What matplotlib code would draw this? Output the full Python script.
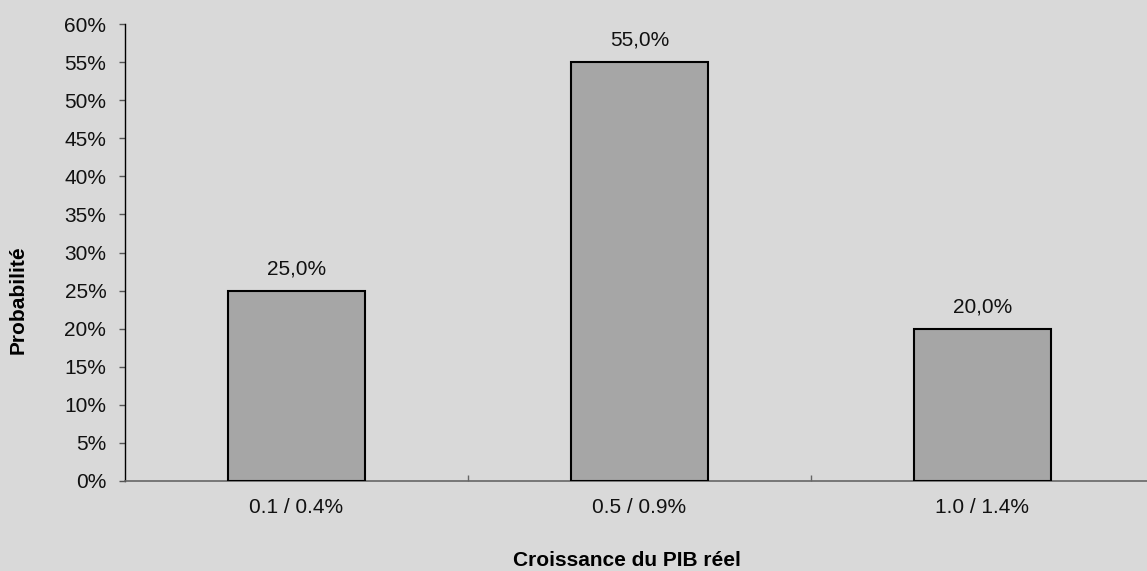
import matplotlib.pyplot as plt
from matplotlib.ticker import FixedLocator, PercentFormatter

# growth buckets and their probability
categories = ['0.1 / 0.4%', '0.5 / 0.9%', '1.0 / 1.4%']
probabilities = [25.0, 55.0, 20.0]
y_ticks = list(range(0, 61, 5))

bg = '#d9d9d9'
bar_color = '#a6a6a6'

plt.rcParams['font.family'] = ['Liberation Sans', 'DejaVu Sans']

W, H = 1147, 571
fig = plt.figure(figsize=(W / 100, H / 100), dpi=100, facecolor=bg)

# axes box in pixels: left 125, bottom 481, top 24, one category = 343 px
left, top, bottom, cat_w = 125, 24, 481, 343
ax = fig.add_axes([left / W, (H - bottom) / H, (W - left) / W, (bottom - top) / H])
ax.set_facecolor(bg)

x = range(len(categories))
ax.bar(x, probabilities, width=0.40, color=bar_color, edgecolor='black', linewidth=1.5, zorder=3)

# value labels above each bar
for xi, v in zip(x, probabilities):
    ax.annotate(f'{v:.1f}%'.replace('.', ','), (xi, v), xytext=(0, 9), textcoords='offset points',
                ha='center', va='bottom', fontsize=15, color='#111111')

ax.set_xlim(-0.5, -0.5 + (W - left) / cat_w)
ax.set_ylim(0, 60)

# y axis: percent ticks pointing out
ax.set_yticks(y_ticks)
ax.yaxis.set_major_formatter(PercentFormatter(decimals=0))
ax.tick_params(axis='y', direction='out', length=4.5, width=1, color='#555555',
               labelsize=15, pad=9, labelcolor='#111111')

# x axis: labels at bar centres, small inward ticks between categories
ax.set_xticks(list(x))
ax.set_xticklabels(categories)
ax.tick_params(axis='x', which='major', length=0, labelsize=15, pad=12, labelcolor='#111111')
ax.xaxis.set_minor_locator(FixedLocator([0.5, 1.5]))
ax.tick_params(axis='x', which='minor', direction='in', length=4.5, width=1, color='#666666')

for s in ['top', 'right']:
    ax.spines[s].set_visible(False)
ax.spines['left'].set_color('black')
ax.spines['left'].set_linewidth(1)
ax.spines['bottom'].set_color('#666666')
ax.spines['bottom'].set_linewidth(1.2)

# axis titles
fig.text(627 / W, 1 - 561 / H, 'Croissance du PIB réel', ha='center', va='center',
         fontsize=15, fontweight='bold', color='black')
fig.text(18 / W, 1 - 300 / H, 'Probabilité', ha='center', va='center', rotation=90,
         fontsize=15, fontweight='bold', color='black')

fig.savefig('out.png', dpi=100, facecolor=bg)
